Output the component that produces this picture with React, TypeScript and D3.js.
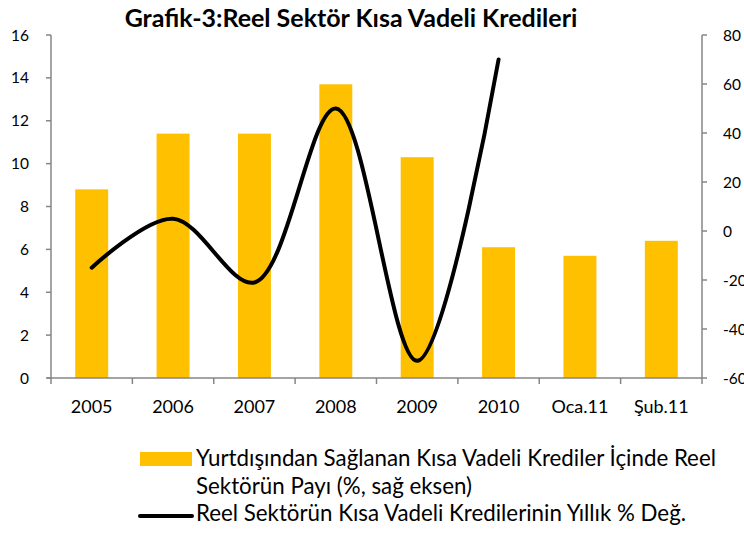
import React, { useEffect, useRef } from "react";
import * as d3 from "d3";

const categories = ["2005", "2006", "2007", "2008", "2009", "2010", "Oca.11", "Şub.11"];
const barValues = [8.8, 11.4, 11.4, 13.7, 10.3, 6.1, 5.7, 6.4];
const lineCategories = ["2005", "2006", "2007", "2008", "2009", "2010"];
const lineValues = [-15, 5, -21, 50, -53, 70];
const leftTicks = [0, 2, 4, 6, 8, 10, 12, 14, 16];
const rightTicks = [-60, -40, -20, 0, 20, 40, 60, 80];
const title = "Grafik-3:Reel Sektör Kısa Vadeli Kredileri";
const legendBar = ["Yurtdışından Sağlanan Kısa Vadeli Krediler İçinde Reel", "Sektörün Payı (%, sağ eksen)"];
const legendLine = "Reel Sektörün Kısa Vadeli Kredilerinin Yıllık % Değ.";

const W = 744, H = 534;
const FONT = "Lato, 'Open Sans', sans-serif";

export default function App() {
  const ref = useRef<SVGSVGElement>(null);
  useEffect(() => {
    const svg = d3.select(ref.current);
    svg.selectAll("*").remove();
    const x0 = 51, x1 = 702, yTop = 35, yBot = 378;
    const x = d3.scaleBand().domain(categories).range([x0, x1]).padding(0);
    const yL = d3.scaleLinear().domain([0, 16]).range([yBot, yTop]);
    const yR = d3.scaleLinear().domain([-60, 80]).range([yBot, yTop]);
    const axisColor = "#868686";

    svg.append("text").attr("x", 351).attr("y", 27).attr("text-anchor", "middle")
      .attr("font-family", FONT).attr("font-weight", "bold").attr("font-size", 25).attr("fill", "#000").text(title);

    const bw = x.bandwidth() * 0.405;
    svg.append("g").selectAll("rect").data(categories).join("rect")
      .attr("x", (d) => (x(d) as number) + x.bandwidth() / 2 - bw / 2)
      .attr("y", (_d, i) => yL(barValues[i]))
      .attr("width", bw)
      .attr("height", (_d, i) => yBot - yL(barValues[i]))
      .attr("fill", "#FFC000");

    // left axis
    const gl = svg.append("g");
    gl.append("line").attr("x1", x0).attr("x2", x0).attr("y1", yTop).attr("y2", yBot).attr("stroke", axisColor).attr("stroke-width", 1.5);
    leftTicks.forEach((t) => {
      gl.append("line").attr("x1", x0 - 5).attr("x2", x0).attr("y1", yL(t)).attr("y2", yL(t)).attr("stroke", axisColor).attr("stroke-width", 1.5);
      gl.append("text").attr("x", 29).attr("y", yL(t) + 5.5).attr("text-anchor", "end")
        .attr("font-family", FONT).attr("font-size", 15.5).attr("fill", "#000").text(String(t));
    });
    // right axis
    const gr = svg.append("g");
    gr.append("line").attr("x1", x1).attr("x2", x1).attr("y1", yTop).attr("y2", yBot).attr("stroke", axisColor).attr("stroke-width", 1.5);
    rightTicks.forEach((t) => {
      gr.append("line").attr("x1", x1).attr("x2", x1 + 5).attr("y1", yR(t)).attr("y2", yR(t)).attr("stroke", axisColor).attr("stroke-width", 1.5);
      gr.append("text").attr("x", 723).attr("y", yR(t) + 5.5).attr("text-anchor", "start")
        .attr("font-family", FONT).attr("font-size", 15.5).attr("fill", "#000").text(String(t));
    });
    // bottom axis
    const gb = svg.append("g");
    gb.append("line").attr("x1", x0 - 4).attr("x2", x1).attr("y1", yBot).attr("y2", yBot).attr("stroke", axisColor).attr("stroke-width", 1.5);
    [...categories.map((c) => x(c) as number), x1].forEach((px) => {
      gb.append("line").attr("x1", px).attr("x2", px).attr("y1", yBot).attr("y2", yBot + 6).attr("stroke", axisColor).attr("stroke-width", 1.5);
    });
    categories.forEach((c) => {
      gb.append("text").attr("x", (x(c) as number) + x.bandwidth() / 2).attr("y", 413).attr("text-anchor", "middle")
        .attr("font-family", FONT).attr("font-size", 18).attr("fill", "#000").text(c);
    });

    // line
    const line = d3.line<number>()
      .x((_d, i) => (x(lineCategories[i]) as number) + x.bandwidth() / 2)
      .y((d) => yR(d))
      .curve(d3.curveCatmullRom.alpha(0.5));
    svg.append("path").datum(lineValues).attr("d", line).attr("fill", "none")
      .attr("stroke", "#000").attr("stroke-width", 4).attr("stroke-linecap", "round").attr("stroke-linejoin", "round");

    // legend
    svg.append("rect").attr("x", 140).attr("y", 452).attr("width", 52).attr("height", 14).attr("fill", "#FFC000");
    legendBar.forEach((t, i) => {
      svg.append("text").attr("x", 196).attr("y", 466 + i * 27.5).attr("font-family", FONT)
        .attr("font-size", 22.3).attr("fill", "#000").text(t);
    });
    svg.append("line").attr("x1", 140).attr("x2", 192).attr("y1", 516).attr("y2", 516)
      .attr("stroke", "#000").attr("stroke-width", 4).attr("stroke-linecap", "round");
    svg.append("text").attr("x", 196).attr("y", 521).attr("font-family", FONT)
      .attr("font-size", 22.3).attr("fill", "#000").text(legendLine);
  }, []);
  return (
    <svg ref={ref} width={W} height={H} style={{ position: "absolute", left: 0, top: 0, background: "#fff" }} />
  );
}
